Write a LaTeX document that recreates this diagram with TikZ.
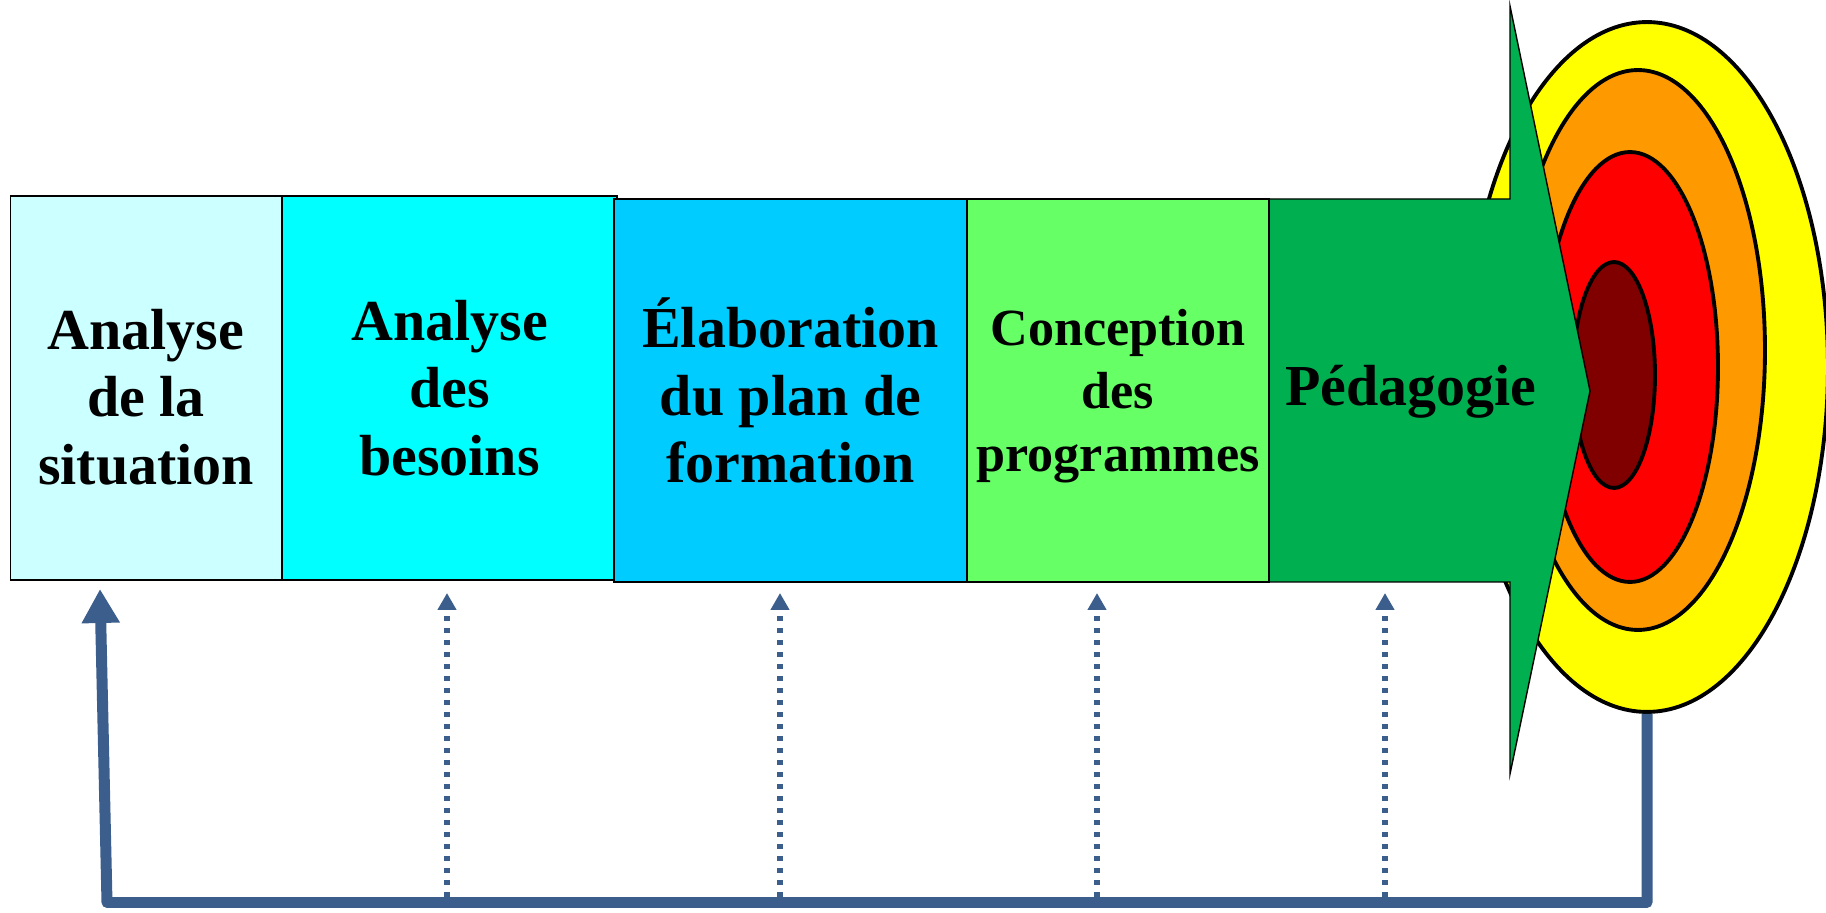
\documentclass[tikz,border=0pt]{standalone}
\usepackage{fontspec}
\setmainfont{Liberation Serif}
\usetikzlibrary{arrows.meta,shapes.geometric}
\definecolor{sitcol}{HTML}{CCFFFF}
\definecolor{besoincol}{HTML}{00FFFF}
\definecolor{plancol}{HTML}{00CCFF}
\definecolor{progcol}{HTML}{66FF66}
\definecolor{pedacol}{HTML}{00B050}
\definecolor{loopcol}{RGB}{59,94,140}
\definecolor{bullcol}{HTML}{800000}
\definecolor{orangecol}{HTML}{FF9900}
\definecolor{yellowcol}{HTML}{FFFF00}
\tikzset{
  stage/.style={draw=black, line width=0.8pt, minimum height=7.68cm, align=center,
    inner sep=0pt, font=\bfseries\fontsize{33}{38.6}\selectfont},
  ring/.style={ellipse, draw=black, line width=2.2pt, inner sep=0pt},
  feedback/.style={draw=loopcol, line width=0.22cm, line join=round,
    -{Triangle[length=0.68cm,width=0.72cm]}},
  check/.style={draw=loopcol, line width=0.12cm, dash pattern=on 0.1cm off 0.14cm,
    -{Triangle[length=0.34cm,width=0.36cm]}},
}
\begin{document}
\begin{tikzpicture}[x=0.02cm,y=0.02cm]
      \useasboundingbox (0,0) rectangle (1826,913);
      % target
      \node[ring, fill=yellowcol, minimum width=7.24cm, minimum height=13.8cm] (outer) at (1647,546) {};
      \node[ring, fill=orangecol, minimum width=5.08cm, minimum height=11.2cm] (middle) at (1638,563) {};
      \node[ring, fill=red, minimum width=3.52cm, minimum height=8.6cm] (inner) at (1630,546) {};
      \node[ring, fill=bullcol, minimum width=1.64cm, minimum height=4.52cm] (bull) at (1614,538) {};
      % big arrow
      \draw[line width=0.8pt, fill=pedacol]
        (1269,331) -- (1510,331) -- (1510,139) -- (1590,522)
        -- (1510,907) -- (1510,714) -- (1269,714) -- cycle;
      % stages
      \node[stage, fill=sitcol, minimum width=5.43cm, text height=110.3pt, text depth=0.2pt] (sit) at (146,525) {Analyse\\de la\\situation};
      \node[stage, fill=besoincol, minimum width=6.7cm] (besoins) at (449.5,525) {Analyse\\des\\besoins};
      \node[stage, fill=plancol, minimum width=7.06cm, minimum height=7.66cm] (plan) at (790.5,522.5) {Élaboration\\du plan de\\formation};
      \node[stage, fill=progcol, minimum width=6.04cm, minimum height=7.66cm, text height=92pt, text depth=0pt,
        font=\bfseries\fontsize{29.7}{35.7}\selectfont] (prog) at (1118,522.5) {Conception\\des\\programmes};
      \node[font=\bfseries\fontsize{33}{38.6}\selectfont] (peda) at (1411,521) {Pédagogie};
      % feedback loop
      \coordinate (loopL) at (107,10.5);
      \coordinate (fbtip) at (100,324);
      \draw[feedback] (outer.south) |- (loopL) -- (fbtip);
      \foreach \x [count=\i] in {447,780,1097,1385} {
        \coordinate (dn\i) at (\x,16);
        \coordinate (up\i) at (\x,320);
        \draw[check] (dn\i) -- (up\i);
      }
    \end{tikzpicture}
\end{document}
